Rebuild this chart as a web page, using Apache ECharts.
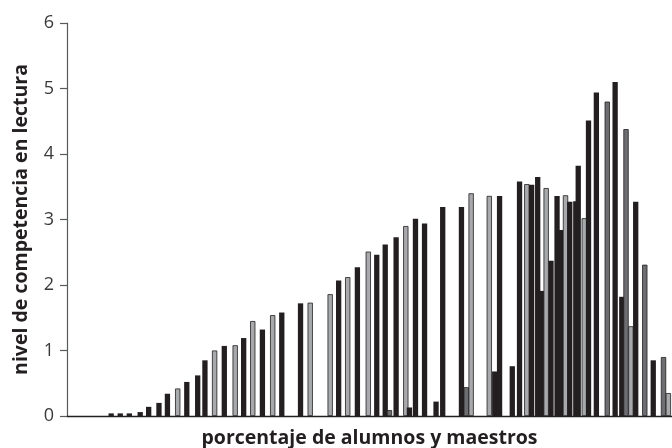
<!DOCTYPE html>
<html>
<head>
<meta charset="utf-8">
<script src="https://cdn.jsdelivr.net/npm/echarts@6/dist/echarts.min.js"></script>
<style>
html,body{margin:0;padding:0;background:#fff;}
#chart{width:672px;height:448px;}
</style>
</head>
<body>
<div id="chart"></div>
<script>
// x positions in percent (porcentaje), y values = nivel de competencia
const blackX = [7.3, 8.8, 10.3, 12.1, 13.5, 15.2, 16.6, 19.8, 21.6, 22.8, 26.0, 29.2, 32.3, 35.5, 38.6, 44.9, 48.0, 51.2, 52.6, 54.4, 56.6, 57.6, 59.1, 61.0, 62.1, 65.2, 70.7, 71.5, 73.6, 74.8, 76.8, 77.8, 78.4, 80.0, 81.0, 81.6, 83.1, 84.1, 84.5, 86.2, 87.5, 90.6, 91.7, 94.0, 96.9];
const blackY = [0.04, 0.04, 0.04, 0.06, 0.14, 0.20, 0.34, 0.52, 0.62, 0.85, 1.07, 1.19, 1.32, 1.58, 1.72, 2.07, 2.27, 2.46, 2.62, 2.73, 0.13, 3.01, 2.94, 0.22, 3.19, 3.19, 0.68, 3.36, 0.76, 3.58, 3.53, 3.65, 1.91, 2.37, 3.36, 2.84, 3.27, 3.28, 3.82, 4.51, 4.94, 5.10, 1.82, 3.27, 0.85];
const lightX = [18.3, 24.4, 27.8, 30.7, 34.0, 40.2, 43.5, 46.4, 49.8, 56.0, 66.8, 69.8, 76.0, 79.2, 82.4, 85.5, 93.2, 99.4];
const lightY = [0.42, 1.00, 1.08, 1.45, 1.54, 1.73, 1.86, 2.12, 2.51, 2.90, 3.40, 3.36, 3.54, 3.48, 3.37, 3.02, 1.37, 0.35];
const midX = [53.3, 66.0, 89.3, 92.4, 95.5, 98.6];
const midY = [0.09, 0.44, 4.80, 4.38, 2.31, 0.90];
const yTicks = [0, 1, 2, 3, 4, 5, 6];

const colors = { black: '#231f20', light: '#a7a9ac', mid: '#6d6e71' };

const items = [];
blackX.forEach((x, i) => items.push({ x, y: blackY[i], k: 'black' }));
lightX.forEach((x, i) => items.push({ x, y: lightY[i], k: 'light' }));
midX.forEach((x, i) => items.push({ x, y: midY[i], k: 'mid' }));
items.sort((a, b) => a.x - b.x);

const data = items.map(d => ({
  value: [d.x, d.y],
  itemStyle: { color: colors[d.k], borderColor: '#231f20', borderWidth: d.k === 'black' ? 0 : 0.8 }
}));

const chart = echarts.init(document.getElementById('chart'), null, { renderer: 'canvas' });
chart.setOption({
  animation: false,
  backgroundColor: '#fff',
  grid: { left: 67, right: 0, top: 23, bottom: 32, containLabel: false, outerBoundsMode: 'none' },
  xAxis: {
    type: 'value', min: 0, max: 100,
    name: 'porcentaje de alumnos y maestros',
    nameLocation: 'middle', nameGap: 12,
    nameTextStyle: { fontFamily: 'Open Sans', fontWeight: 'bold', fontSize: 19.5, color: '#231f20' },
    axisLine: { show: true, lineStyle: { color: '#231f20', width: 1.3 } },
    axisTick: { show: false }, axisLabel: { show: false }, splitLine: { show: false }
  },
  yAxis: {
    type: 'value', min: 0, max: 6, interval: 1,
    name: 'nivel de competencia en lectura',
    nameLocation: 'middle', nameGap: 36,
    nameTextStyle: { fontFamily: 'Open Sans', fontWeight: 'bold', fontSize: 19.5, color: '#231f20' },
    axisLine: { show: true, lineStyle: { color: '#58595b', width: 1.2 } },
    axisTick: { show: true, length: 7, lineStyle: { color: '#58595b', width: 1.2 } },
    axisLabel: {
      margin: 13, fontFamily: 'Open Sans', fontSize: 18, color: '#3a3a3a',
      formatter: v => yTicks.includes(v) ? String(v) : ''
    },
    splitLine: { show: false }
  },
  series: [{
    type: 'bar',
    barWidth: 5.3,
    data: data
  }]
});
</script>
</body>
</html>
